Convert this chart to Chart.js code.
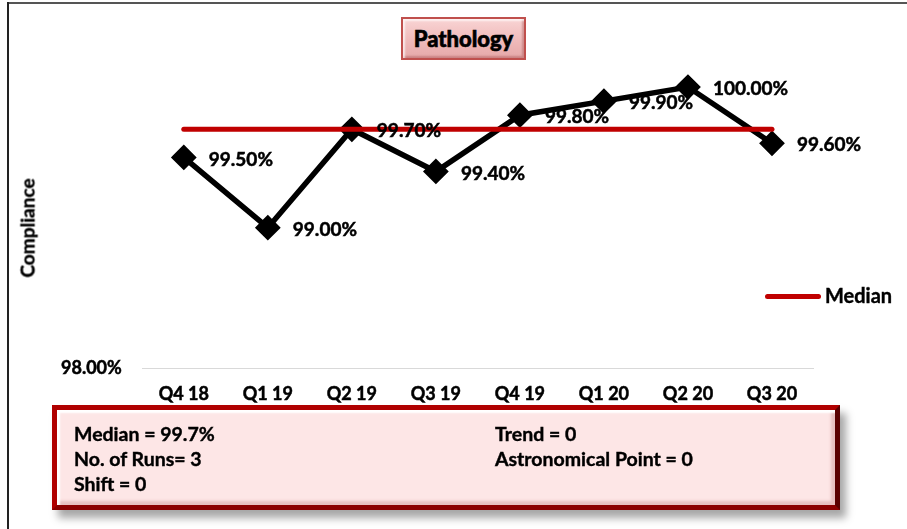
<!DOCTYPE html>
<html>
<head>
<meta charset="utf-8">
<script src="https://cdn.jsdelivr.net/npm/chart.js@4/dist/chart.umd.min.js"></script>
<style>
  html, body { margin:0; padding:0; background:#fff; }
  #wrap { position:relative; width:907px; height:529px; overflow:hidden; font-family: Lato, "Open Sans", sans-serif; }
  #frameTop { position:absolute; left:7px; top:2px; width:900px; height:2px; background:#555; }
  #frameLeft { position:absolute; left:7px; top:2px; width:2px; height:527px; background:#222; }
  canvas { position:absolute; left:0; top:0; }
  #title { position:absolute; left:401px; top:17px; width:121px; height:39px; border:2px solid #c0504d;
    background: linear-gradient(180deg, #f9d4d4 0%, #eeb8b8 60%, #e6a9a9 100%);
    box-shadow: inset 2px 2px 2px rgba(255,255,255,0.7), inset -2px -2px 2px rgba(150,60,60,0.35);
    font-weight:900; font-size:22px; line-height:39px; text-align:center; color:#000; -webkit-text-stroke:0.6px #000; }
  #ytitle { position:absolute; left:27px; top:228px; transform: translate(-50%,-50%) rotate(-90deg); font-weight:700; font-size:19px; color:#000; white-space:nowrap; -webkit-text-stroke:0.4px #000; }
  #legend { position:absolute; left:765px; top:283px; font-weight:700; font-size:20px; line-height:24px; color:#000; white-space:nowrap; -webkit-text-stroke:0.4px #000; }
  #legend span.sw { display:inline-block; width:56px; height:5px; border-radius:3px; background:#c00000; vertical-align:middle; margin-right:4px; position:relative; top:-1px; }
  #stats { position:absolute; left:52px; top:405px; width:778px; height:95px; border:5px solid #b00000;
    border-right-color:#5a0000; border-bottom-color:#8a0000;
    background:#fde6e6; box-shadow: inset 3px 3px 2px #fff, inset -4px -4px 3px rgba(190,120,120,0.35), 6px 8px 8px rgba(0,0,0,0.35);
    font-weight:700; font-size:19.5px; line-height:22px; color:#000; -webkit-text-stroke:0.4px #000; }
  .st { position:absolute; white-space:nowrap; }
</style>
</head>
<body>
<div id="wrap">
  <canvas id="c" width="907" height="529"></canvas>
  <div id="frameTop"></div>
  <div id="frameLeft"></div>
  <div id="title">Pathology</div>
  <div id="ytitle">Compliance</div>
  <div id="legend"><span class="sw"></span>Median</div>
  <div id="stats">
    <div class="st" style="left:17px;top:13px;">Median = 99.7%</div>
    <div class="st" style="left:17px;top:38px;">No. of Runs= 3</div>
    <div class="st" style="left:17px;top:63px;">Shift = 0</div>
    <div class="st" style="left:438px;top:13px;">Trend = 0</div>
    <div class="st" style="left:438px;top:38px;">Astronomical Point = 0</div>
  </div>
</div>
<script>
const categories = ["Q4 18","Q1 19","Q2 19","Q3 19","Q4 19","Q1 20","Q2 20","Q3 20"];
const compliance = [99.5, 99.0, 99.7, 99.4, 99.8, 99.9, 100.0, 99.6];
const median = [99.7, 99.7, 99.7, 99.7, 99.7, 99.7, 99.7, 99.7];
const yTickValues = [98];

const FONT = 'Lato, "Open Sans", sans-serif';

const labelPlugin = {
  id: 'pointLabels',
  afterDatasetsDraw(chart) {
    const ctx = chart.ctx;
    const meta = chart.getDatasetMeta(1);
    ctx.save();
    ctx.font = 'bold 19px ' + FONT;
    ctx.fillStyle = '#000';
    ctx.strokeStyle = '#000';
    ctx.lineWidth = 0.5;
    ctx.textBaseline = 'middle';
    ctx.textAlign = 'left';
    meta.data.forEach((pt, i) => {
      const t = compliance[i].toFixed(2) + '%';
      ctx.fillText(t, pt.x + 25, pt.y + 2);
      ctx.strokeText(t, pt.x + 25, pt.y + 2);
    });
    ctx.restore();
  }
};

new Chart(document.getElementById('c'), {
  type: 'line',
  data: {
    labels: categories,
    datasets: [
      { label: 'Median', data: median, borderColor: '#c00000', borderWidth: 5, pointRadius: 0,
        borderCapStyle: 'round', fill: false, order: 0 },
      { label: 'Compliance', data: compliance, borderColor: '#000', backgroundColor: '#000', borderWidth: 5.5,
        pointStyle: 'rectRot', pointRadius: 9, pointHoverRadius: 9, fill: false, order: 1 }
    ]
  },
  options: {
    responsive: false,
    animation: false,
    events: [],
    layout: { padding: { left: 41, right: 93, top: 7, bottom: 109 } },
    plugins: { legend: { display: false }, tooltip: { enabled: false }, title: { display: false } },
    scales: {
      x: {
        offset: true,
        grid: { display: false, drawTicks: false },
        border: { display: false },
        ticks: { color: '#000', font: { family: FONT, weight: 'bold', size: 18 }, padding: 15, maxRotation: 0,
          textStrokeColor: '#000', textStrokeWidth: 0.5 }
      },
      y: {
        min: 98, max: 100.4,
        afterBuildTicks(scale) { scale.ticks = yTickValues.map(v => ({ value: v })); },
        grid: { color: '#d9d9d9', lineWidth: 1, drawTicks: false },
        border: { display: false },
        ticks: { color: '#000', font: { family: FONT, weight: 'bold', size: 18 }, padding: 20,
          textStrokeColor: '#000', textStrokeWidth: 0.5,
          callback: v => Number(v).toFixed(2) + '%' }
      }
    }
  },
  plugins: [labelPlugin]
});
</script>
</body>
</html>
